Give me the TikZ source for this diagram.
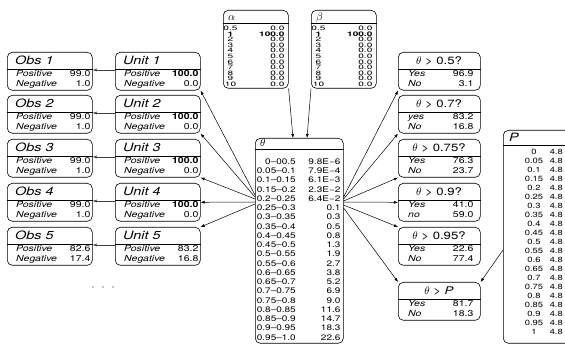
\documentclass[tikz,border=0pt]{standalone}
\usepackage{fontspec}
\setmainfont[FakeStretch=1.25]{TeX Gyre Heros}
\newfontfamily\tabfont[FakeStretch=1.6]{TeX Gyre Heros}
\usetikzlibrary{arrows.meta}

% box geometry used by \binbox (width, label inset, value inset)
\newcommand\bw{85}
\newcommand\lx{9}
\newcommand\vx{2}

% two-state box: [title style]{name}{x}{y}{title}{label 1}{value 1}{label 2}{value 2}
\newcommand\binbox[9][ttlL]{%
  \node[box, minimum width=\bw pt, anchor=north west] (#2) at (#3,#4) {};
  \draw[hdr] ([yshift=-17pt]#2.north west) -- ([yshift=-17pt]#2.north east);
  \node[#1] (#2-t) at ([yshift=-12.6pt]#2.north west) {#5};
  \node[rowlab] (#2-a) at ([xshift=\lx pt, yshift=-25pt]#2.north west) {#6};
  \node[rowval] (#2-av) at ([xshift=-\vx pt, yshift=-25pt]#2.north east) {#7};
  \node[rowlab] (#2-b) at ([xshift=\lx pt, yshift=-35pt]#2.north west) {#8};
  \node[rowval] (#2-bv) at ([xshift=-\vx pt, yshift=-35pt]#2.north east) {#9};
}

\begin{document}
\begin{tikzpicture}[x=1pt, y=-1pt,
  box/.style={draw, line width=0.6pt, rounded corners=5pt, minimum height=38pt, inner sep=0pt},
  tbox/.style={draw, line width=0.6pt, rounded corners=5pt, inner sep=0pt, anchor=north west},
  hdr/.style={line width=0.5pt},
  ttlL/.style={font=\fontsize{11.5}{12}\selectfont\itshape, inner sep=0pt, anchor=base west, xshift=8pt},
  ttlC/.style={font=\fontsize{10.5}{12}\selectfont, inner sep=0pt, anchor=base, xshift=41pt},
  rowlab/.style={font=\fontsize{8.4}{9}\selectfont\itshape, inner sep=0pt, anchor=base west},
  rowval/.style={font=\fontsize{8.4}{9}\selectfont, inner sep=0pt, anchor=base east},
  tabrow/.style={font=\tabfont\fontsize{6.3}{6.3}\selectfont, inner sep=0pt},
  throw/.style={font=\fontsize{8}{9}\selectfont, inner sep=0pt, anchor=base east},
  arr/.style={line width=0.5pt, -{Latex[length=4pt,width=3pt]}},
]
\useasboundingbox (0,0) rectangle (565,347);

% observation boxes
\binbox{obs1}{7}{52}{Obs 1}{Positive}{99.0}{Negative}{1.0}
\binbox{obs2}{7}{95}{Obs 2}{Positive}{99.0}{Negative}{1.0}
\binbox{obs3}{7}{139}{Obs 3}{Positive}{99.0}{Negative}{1.0}
\binbox{obs4}{7}{183}{Obs 4}{Positive}{99.0}{Negative}{1.0}
\binbox{obs5}{7}{227}{Obs 5}{Positive}{82.6}{Negative}{17.4}

% unit boxes
\binbox{unit1}{115}{52}{Unit 1}{Positive}{\textbf{100.0}}{Negative}{0.0}
\binbox{unit2}{115}{95}{Unit 2}{Positive}{\textbf{100.0}}{Negative}{0.0}
\binbox{unit3}{115}{139}{Unit 3}{Positive}{\textbf{100.0}}{Negative}{0.0}
\binbox{unit4}{115}{183}{Unit 4}{Positive}{\textbf{100.0}}{Negative}{0.0}
\binbox{unit5}{115}{227}{Unit 5}{Positive}{83.2}{Negative}{16.8}

% question boxes
\begin{scope}
\renewcommand\bw{82}\renewcommand\lx{10}\renewcommand\vx{7}
\binbox[ttlC]{q1}{398}{52}{$\theta$ > 0.5?}{Yes}{96.9}{No}{3.1}
\binbox[ttlC]{q2}{398}{95}{$\theta$ > 0.7?}{yes}{83.2}{No}{16.8}
\binbox[ttlC]{q3}{398}{139}{$\theta$ > 0.75?}{Yes}{76.3}{No}{23.7}
\binbox[ttlC]{q4}{398}{183}{$\theta$ > 0.9?}{Yes}{41.0}{no}{59.0}
\binbox[ttlC]{q5}{398}{227}{$\theta$ > 0.95?}{Yes}{22.6}{No}{77.4}
\binbox[ttlC]{q6}{398}{282}{$\theta$ > \textit{P}}{Yes}{81.7}{No}{18.3}
\end{scope}

% prior tables for alpha and beta
\foreach \nm/\px/\sym in {alpha/223/\alpha, beta/311/\beta} {
  \node[tbox, minimum width=65pt, minimum height=78pt] (\nm) at (\px,10) {};
  \draw[hdr] ([yshift=-13pt]\nm.north west) -- ([yshift=-13pt]\nm.north east);
  \node[font=\fontsize{11}{12}\selectfont, inner sep=0pt, anchor=base west]
    (\nm-t) at ([xshift=5pt, yshift=-10.5pt]\nm.north west) {$\sym$};
  \foreach \lab [count=\k from 0] in {0.5,1,2,3,4,5,6,7,8,9,10} {
    \node[tabrow, anchor=base] (\nm-l\k)
      at ([xshift=7.5pt, yshift={-(20.5+5.6*\k)*1pt}]\nm.north west)
      {\ifnum\k=1 \bfseries\fi\lab};
    \node[tabrow, anchor=base east] (\nm-v\k)
      at ([xshift=-4pt, yshift={-(20.5+5.6*\k)*1pt}]\nm.north east)
      {\ifnum\k=1 \bfseries 100.0\else 0.0\fi};
  }
}

% theta distribution
\node[tbox, minimum width=88pt, minimum height=205pt] (theta) at (255,138) {};
\draw[hdr] ([yshift=-11pt]theta.north west) -- ([yshift=-11pt]theta.north east);
\node[font=\fontsize{11}{12}\selectfont, inner sep=0pt, anchor=base west]
  (theta-t) at ([xshift=5pt, yshift=-9pt]theta.north west) {$\theta$};
\foreach \lab/\v [count=\k from 0] in {
  0–00.5/9.8E−6, 0.05–0.1/7.9E−4, 0.1–0.15/6.1E−3, 0.15–0.2/2.3E−2,
  0.2–0.25/6.4E−2, 0.25–0.3/0.1, 0.3–0.35/0.3, 0.35–0.4/0.5, 0.4–0.45/0.8,
  0.45–0.5/1.3, 0.5–0.55/1.9, 0.55–0.6/2.7, 0.6–0.65/3.8, 0.65–0.7/5.2,
  0.7–0.75/6.9, 0.75–0.8/9.0, 0.8–0.85/11.6, 0.85–0.9/14.7, 0.9–0.95/18.3,
  0.95–1.0/22.6} {
  \node[throw] (theta-l\k) at ([xshift=41pt, yshift={-(26.3+9.26*\k)*1pt}]theta.north west) {\lab};
  \node[throw] (theta-v\k) at ([xshift=-3pt, yshift={-(26.3+9.26*\k)*1pt}]theta.north east) {\v};
}

% P distribution
\node[tbox, minimum width=72pt, minimum height=213pt] (P) at (503,130) {};
\draw[hdr] ([yshift=-15pt]P.north west) -- ([yshift=-15pt]P.north east);
\node[font=\fontsize{11.5}{12}\selectfont\itshape, inner sep=0pt, anchor=base west]
  (P-t) at ([xshift=6pt, yshift=-12pt]P.north west) {P};
\foreach \lab [count=\k from 0] in {0,0.05,0.1,0.15,0.2,0.25,0.3,0.35,0.4,0.45,0.5,
    0.55,0.6,0.65,0.7,0.75,0.8,0.85,0.9,0.95,1} {
  \node[font=\fontsize{7.5}{8}\selectfont, inner sep=0pt, anchor=base] (P-l\k)
    at ([xshift=31pt, yshift={-(24.6+9*\k)*1pt}]P.north west) {\lab};
  \node[font=\fontsize{7.5}{8}\selectfont, inner sep=0pt, anchor=base east] (P-v\k)
    at ([xshift=60pt, yshift={-(24.6+9*\k)*1pt}]P.north west) {4.8};
}

% units to observations
\foreach \i in {1,...,5}
  \draw[arr, draw=black!75] ([yshift=-18pt]unit\i.north west) -- ([yshift=-18pt]obs\i.north east);

% priors to theta
\draw[arr] (alpha.south east) -- ([xshift=38pt]theta.north west);
\draw[arr] (beta.south west) -- ([xshift=52pt]theta.north west);

% theta to units
\draw[arr] ([yshift=-57pt]theta.north west) -- (unit1.south east);
\draw[arr] ([yshift=-59pt]theta.north west) -- (unit2.south east);
\draw[arr] ([yshift=-61pt]theta.north west) -- (unit3.south east);
\draw[arr] ([yshift=-64pt]theta.north west) -- (unit4.east);
\draw[arr] ([yshift=-66pt]theta.north west) -- (unit5.north east);

% theta to questions
\draw[arr] ([yshift=-59pt]theta.north east) -- (q1.south west);
\draw[arr] ([yshift=-61pt]theta.north east) -- (q2.south west);
\draw[arr] ([yshift=-63pt]theta.north east) -- (q3.south west);
\draw[arr] ([yshift=-64pt]theta.north east) -- (q4.west);
\draw[arr] ([yshift=-67pt]theta.north east) -- (q5.north west);
\draw[arr] ([yshift=-70pt]theta.north east) -- (q6.north west);

% P to the last question
\draw[arr] ([yshift=-120pt]P.north west) -- (q6.north east);

% ellipsis below the unit column
\foreach \dx in {93,103,113}
  \fill (\dx,287) circle (0.55pt);
\end{tikzpicture}
\end{document}
